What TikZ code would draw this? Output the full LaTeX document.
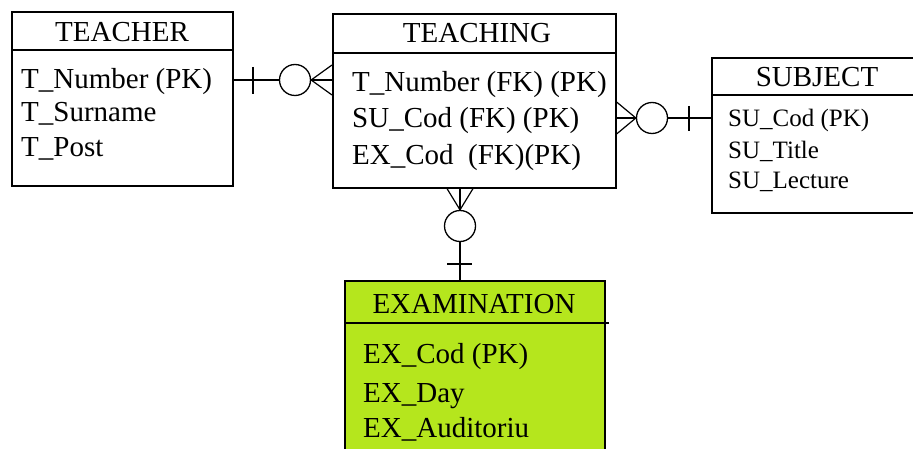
\documentclass[tikz,border=0pt]{standalone}
\usepackage{fontspec}
\setmainfont{Liberation Serif}
\definecolor{examgreen}{RGB}{181,230,29}
\begin{document}
\begin{tikzpicture}[x=1pt,y=-1pt,
  entity/.style={draw, line width=1.6pt, rectangle, inner sep=0pt, anchor=north west},
  rule/.style={line width=1.6pt},
  title/.style={anchor=base, inner sep=0pt, font=\fontsize{29}{34}\selectfont},
  attr/.style={anchor=base west, inner sep=0pt, font=\fontsize{29}{34}\selectfont},
  smallattr/.style={anchor=base west, inner sep=0pt, font=\fontsize{25}{30}\selectfont},
  link/.style={line width=1.6pt},
  crow/.style={line width=1.2pt},
  ring/.style={circle, draw, line width=1.3pt, fill=white, inner sep=0pt, minimum size=31pt},
]
\useasboundingbox (0,0) rectangle (913,449);
\clip (0,0) rectangle (913,449);

% ---- entities ----
\node[entity, minimum width=221pt, minimum height=174pt] (teacher) at (11,11) {};
\draw[rule] (teacher.west |- 0,50) -- (teacher.east |- 0,50);
\node[title] (teachert) at (122,42) {TEACHER};
\node[attr] (ta1) at (21,89) {T\_Number (PK)};
\node[attr] (ta2) at (21,122) {T\_Surname};
\node[attr] (ta3) at (21,157) {T\_Post};

\node[entity, minimum width=283pt, minimum height=174pt] (teaching) at (332,13) {};
\draw[rule] (teaching.west |- 0,53) -- (teaching.east |- 0,53);
\node[title] (teachingt) at (477,43) {TEACHING};
\node[attr] (ga1) at (352,92) {T\_Number (FK)\ (PK)};
\node[attr] (ga2) at (352,128) {SU\_Cod (FK) (PK)};
\node[attr] (ga3) at (352,165) {EX\_Cod\ \ (FK)(PK)};

\node[entity, minimum width=240pt, minimum height=155pt] (subject) at (711,57) {};
\draw[rule] (subject.west |- 0,95) -- (subject.east |- 0,95);
\node[title] (subjectt) at (817,87) {SUBJECT};
\node[smallattr] (sa1) at (728,127) {SU\_Cod (PK)};
\node[smallattr] (sa2) at (728,159) {SU\_Title};
\node[smallattr] (sa3) at (728,189) {SU\_Lecture};

\node[entity, fill=examgreen, minimum width=260pt, minimum height=200pt] (exam) at (344,280) {};
\draw[rule] (exam.west |- 0,323) -- ([xshift=3pt]exam.east |- 0,323);
\node[title] (examt) at (474,313) {EXAMINATION};
\node[attr] (ea1) at (363,363) {EX\_Cod (PK)};
\node[attr] (ea2) at (363,402) {EX\_Day};
\node[attr] (ea3) at (363,437) {EX\_Auditoriu};

% ---- TEACHER (one) to TEACHING (zero or many) ----
\coordinate (r1) at (0,80);
\draw[link] (teacher.east |- r1) -- (teaching.west |- r1);
\draw[link] (253,67) -- (253,94);
\node[ring] (c1) at (295,80) {};
\draw[crow] (c1.east) -- (teaching.west |- 0,65);
\draw[crow] (c1.east) -- (teaching.west |- 0,95);

% ---- SUBJECT (one) to TEACHING (zero or many) ----
\coordinate (r2) at (0,118);
\draw[link] (teaching.east |- r2) -- (subject.west |- r2);
\draw[link] (689,106) -- (689,131);
\node[ring] (c2) at (652,118) {};
\draw[crow] (c2.west) -- (teaching.east |- 0,102);
\draw[crow] (c2.west) -- (teaching.east |- 0,134);

% ---- EXAMINATION (one) to TEACHING (zero or many) ----
\coordinate (r3) at (460,0);
\draw[link] (teaching.south -| r3) -- (exam.north -| r3);
\draw[link] (447,264) -- (472,264);
\node[ring] (c3) at (460,226) {};
\draw[crow] (c3.north) -- (447,0 |- teaching.south);
\draw[crow] (c3.north) -- (473,0 |- teaching.south);
\end{tikzpicture}
\end{document}
